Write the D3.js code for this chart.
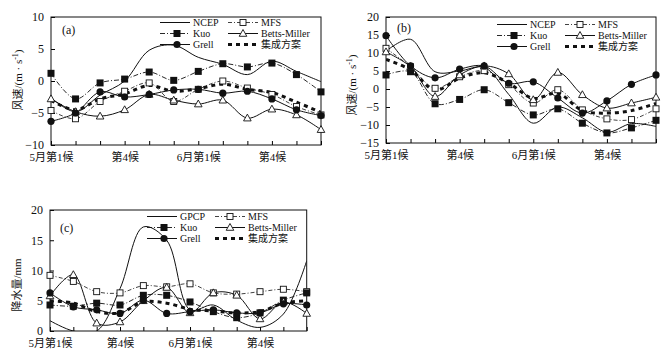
<!DOCTYPE html>
<html>
<head>
<meta charset="utf-8">
<script src="https://cdn.jsdelivr.net/npm/d3@7"></script>
<style>
  body { margin: 0; background: #fff; }
  text { font-family: "Liberation Serif", "Noto Sans CJK SC", serif; fill: #111; }
</style>
</head>
<body>
<script>
// Pentads: May 1-6, June 1-6
const pentads = d3.range(12);
const tickLabels = ["5月第1候", "第4候", "6月第1候", "第4候"];
const tickLabelIdx = [0, 3, 6, 9];

// (a) wind speed, m/s
const ncepA  = [-2.6, -4.8, -2.2, 0.0, 4.8, 5.6, 3.7, 2.6, 1.0, 3.1, 1.5, -0.1];
const kuoA   = [1.2, -2.8, -0.3, 0.3, 1.4, 0.1, 1.5, 2.7, 2.2, 2.8, 1.0, -1.7];
const mfsA   = [-4.6, -5.9, -3.2, -1.6, -0.3, -3.2, -1.3, 0.0, -1.1, -2.1, -4.0, -5.3];
const bmA    = [-2.8, -4.8, -5.5, -4.5, -2.1, -3.0, -3.6, -3.0, -5.8, -4.4, -5.3, -7.6];
const grellA = [-6.3, -5.0, -1.7, -2.5, -2.1, -1.4, -1.3, -1.9, -1.6, -2.8, -4.5, -5.4];
const ensA   = [-3.0, -4.5, -2.8, -2.0, -0.7, -1.6, -1.2, -0.5, -1.3, -1.8, -3.3, -4.9];

// (b) wind speed, m/s
const ncepB  = [10.5, 13.8, 4.8, 5.0, 6.0, -1.5, -9.5, -5.0, -8.0, -12.0, -9.6, -10.4];
const kuoB   = [3.9, 4.8, -4.1, -2.9, -0.2, -3.8, -7.2, -5.5, -9.5, -12.2, -10.8, -8.7];
const mfsB   = [11.3, 6.2, 0.2, 3.4, 5.1, 1.2, -3.9, -0.2, -5.8, -8.3, -8.5, -5.5];
const bmB    = [10.3, 6.2, -2.1, 3.9, 6.4, 4.2, -3.0, 4.6, -1.6, -5.3, -3.9, -2.3];
const grellB = [14.8, 6.4, 3.1, 5.5, 6.4, 1.6, 2.0, -2.5, -6.7, -3.3, 1.3, 3.9];
const ensB   = [8.2, 5.3, -0.3, 3.0, 4.5, 1.6, -2.6, -1.2, -6.0, -6.7, -6.0, -4.0];

// (c) precipitation, mm
const gpcpC  = [1.7, 0.0, 0.0, 7.0, 17.2, 15.0, 3.5, 4.3, 1.8, 0.6, 2.8, 11.6];
const mfsC   = [9.2, 8.2, 6.5, 6.3, 7.5, 7.3, 7.8, 6.3, 6.1, 6.5, 6.9, 6.5];
const kuoC   = [4.3, 4.1, 4.6, 4.3, 5.9, 5.9, 4.8, 3.2, 2.2, 3.0, 5.1, 6.3];
const bmC    = [5.8, 9.3, 1.3, 1.5, 5.0, 7.2, 3.0, 6.3, 5.9, 2.0, 4.8, 2.9];
const grellC = [6.3, 4.0, 3.5, 2.9, 5.1, 2.9, 3.2, 3.5, 3.0, 3.0, 4.5, 4.3];
const ensC   = [5.0, 4.6, 3.2, 3.0, 4.8, 4.6, 3.6, 3.3, 3.0, 3.2, 4.6, 5.0];

// line / marker styles
const styles = {
  obs:   { dash: null, width: 1, marker: null },
  kuo:   { dash: "5,2,1,2", width: 0.9, marker: "fsquare" },
  mfs:   { dash: "4,2,1,2", width: 0.8, marker: "osquare" },
  bm:    { dash: null, width: 1, marker: "otriangle" },
  grell: { dash: null, width: 1, marker: "fcircle" },
  ens:   { dash: "4,4", width: 3, marker: null }
};

const svg = d3.select("body").append("svg")
  .attr("width", 665)
  .attr("height", 358);

function drawMarker(g, type, cx, cy) {
  if (type === "fsquare") {
    g.append("rect").attr("x", cx - 3.5).attr("y", cy - 3.5).attr("width", 7).attr("height", 7)
      .attr("fill", "#111");
  } else if (type === "osquare") {
    g.append("rect").attr("x", cx - 3).attr("y", cy - 3).attr("width", 6).attr("height", 6)
      .attr("fill", "#fff").attr("stroke", "#111").attr("stroke-width", 0.9);
  } else if (type === "otriangle") {
    g.append("path").attr("d", `M${cx},${cy - 4}L${cx + 3.8},${cy + 2.8}L${cx - 3.8},${cy + 2.8}Z`)
      .attr("fill", "#fff").attr("stroke", "#111").attr("stroke-width", 0.9);
  } else if (type === "fcircle") {
    g.append("circle").attr("cx", cx).attr("cy", cy).attr("r", 3.6).attr("fill", "#111");
  }
}

function drawPanel(p) {
  const x = d3.scaleLinear().domain([0, 11]).range([p.left, p.right]);
  const y = d3.scaleLinear().domain(p.yDomain).range([p.bottom, p.top]);
  const g = svg.append("g");

  // clip for the curves
  g.append("clipPath").attr("id", "clip-" + p.id)
    .append("rect").attr("x", p.left).attr("y", p.top)
    .attr("width", p.right - p.left).attr("height", p.bottom - p.top);

  // axes (inward ticks)
  g.append("g")
    .attr("transform", `translate(${p.left},0)`)
    .call(d3.axisLeft(y).tickValues(p.yTicks).tickSize(-4).tickPadding(7).tickFormat(d3.format("d")))
    .call(a => a.select(".domain").remove())
    .call(a => a.selectAll("text").style("font-size", "12px"));

  g.append("g")
    .attr("transform", `translate(0,${p.bottom})`)
    .call(d3.axisBottom(x).tickValues(pentads).tickSize(-4).tickPadding(8)
      .tickFormat(i => tickLabelIdx.includes(i) ? tickLabels[tickLabelIdx.indexOf(i)] : ""))
    .call(a => a.select(".domain").remove())
    .call(a => a.selectAll("text").style("font-size", "11px"));

  g.append("rect")
    .attr("x", p.left).attr("y", p.top)
    .attr("width", p.right - p.left).attr("height", p.bottom - p.top)
    .attr("fill", "none").attr("stroke", "#111").attr("stroke-width", 1);

  // curves
  const line = d3.line()
    .x((d, i) => x(i))
    .y(d => y(d))
    .curve(d3.curveCatmullRom.alpha(0.5));

  const curves = g.append("g").attr("clip-path", `url(#clip-${p.id})`);
  p.series.forEach(s => {
    const st = styles[s.style];
    curves.append("path")
      .datum(s.values)
      .attr("fill", "none")
      .attr("stroke", "#111")
      .attr("stroke-width", st.width)
      .attr("stroke-dasharray", st.dash)
      .attr("d", line);
  });

  // markers
  p.series.forEach(s => {
    const st = styles[s.style];
    if (!st.marker) return;
    s.values.forEach((v, i) => drawMarker(g, st.marker, x(i), y(v)));
  });

  // legend: two columns, three rows
  const lg = g.append("g");
  p.series.forEach((s, k) => {
    const st = styles[s.style];
    const col = k % 2, row = Math.floor(k / 2);
    const x0 = col === 0 ? p.legX : p.legX + 68;
    const x1 = x0 + 30;
    const ly = p.legY[row];
    lg.append("line")
      .attr("x1", x0).attr("x2", x1).attr("y1", ly).attr("y2", ly)
      .attr("stroke", "#111").attr("stroke-width", st.width)
      .attr("stroke-dasharray", st.dash);
    if (st.marker) drawMarker(lg, st.marker, (x0 + x1) / 2 + (col === 0 ? 2 : 0), ly);
    lg.append("text")
      .attr("x", x1 + 3).attr("y", ly + 3.5)
      .style("font-size", "10px")
      .text(s.name);
  });

  // panel tag
  g.append("text").attr("x", p.tag[0]).attr("y", p.tag[1])
    .style("font-size", "12px").text(p.tagText);

  // y label
  const yl = g.append("text")
    .attr("transform", `translate(${p.yLab[0]},${p.yLab[1]}) rotate(-90)`)
    .attr("text-anchor", "middle")
    .style("font-size", "11px");
  yl.append("tspan").text(p.yLabText);
  if (p.unitSup) {
    yl.append("tspan").attr("dy", -4).style("font-size", "8px").text("-1");
    yl.append("tspan").attr("dy", 4).text(")");
  }
}

drawPanel({
  id: "a", left: 51, right: 321, top: 17, bottom: 145,
  yDomain: [-10, 10], yTicks: [-10, -5, 0, 5, 10],
  legX: 160, legY: [22.5, 33.5, 44.5],
  tag: [62, 34], tagText: "(a)",
  yLab: [22, 80], yLabText: "风速/(m · s", unitSup: true,
  series: [
    { name: "NCEP", values: ncepA, style: "obs" },
    { name: "MFS", values: mfsA, style: "mfs" },
    { name: "Kuo", values: kuoA, style: "kuo" },
    { name: "Betts-Miller", values: bmA, style: "bm" },
    { name: "Grell", values: grellA, style: "grell" },
    { name: "集成方案", values: ensA, style: "ens" }
  ]
});

drawPanel({
  id: "b", left: 386, right: 656, top: 17, bottom: 143,
  yDomain: [-15, 20], yTicks: [-15, -10, -5, 0, 5, 10, 15, 20],
  legX: 497, legY: [24.5, 35.5, 46.5],
  tag: [397, 32], tagText: "(b)",
  yLab: [356, 85], yLabText: "风速/(m · s", unitSup: true,
  series: [
    { name: "NCEP", values: ncepB, style: "obs" },
    { name: "MFS", values: mfsB, style: "mfs" },
    { name: "Kuo", values: kuoB, style: "kuo" },
    { name: "Betts-Miller", values: bmB, style: "bm" },
    { name: "Grell", values: grellB, style: "grell" },
    { name: "集成方案", values: ensB, style: "ens" }
  ]
});

drawPanel({
  id: "c", left: 50, right: 306.7, top: 210, bottom: 331,
  yDomain: [0, 20], yTicks: [0, 5, 10, 15, 20],
  legX: 147, legY: [216.5, 227.5, 238.5],
  tag: [60, 232], tagText: "(c)",
  yLab: [21, 285], yLabText: "降水量/mm", unitSup: false,
  series: [
    { name: "GPCP", values: gpcpC, style: "obs" },
    { name: "MFS", values: mfsC, style: "mfs" },
    { name: "Kuo", values: kuoC, style: "kuo" },
    { name: "Betts-Miller", values: bmC, style: "bm" },
    { name: "Grell", values: grellC, style: "grell" },
    { name: "集成方案", values: ensC, style: "ens" }
  ]
});
</script>
</body>
</html>
